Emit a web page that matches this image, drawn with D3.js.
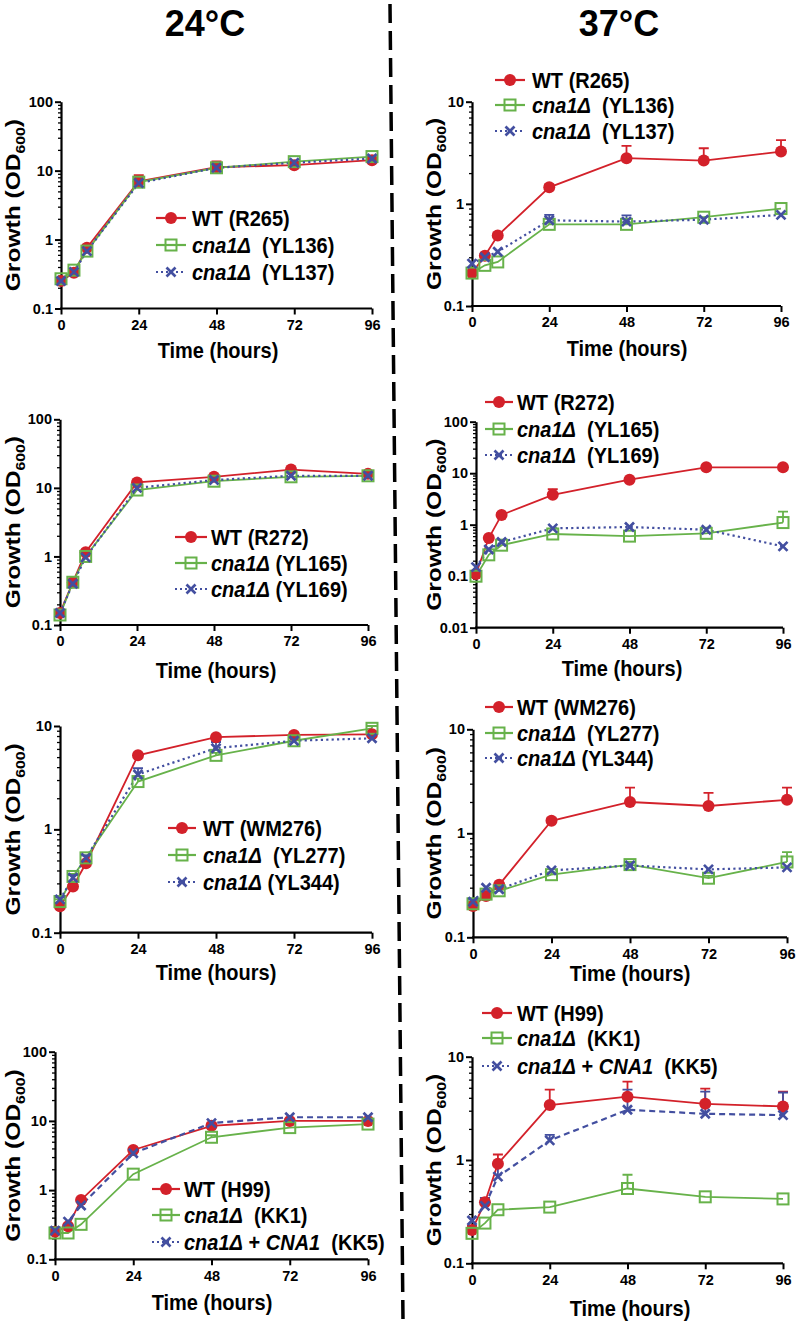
<!DOCTYPE html>
<html><head><meta charset="utf-8">
<script src="https://cdn.jsdelivr.net/npm/d3@7"></script>
<style>
body{margin:0;background:#fff}
svg{display:block}
text{font-family:"Liberation Sans",Arial,Helvetica,sans-serif;font-weight:bold;fill:#000}
</style>
</head><body><svg id="c" width="797" height="1321"></svg>
<script>
// ---------- data ----------
const times=[0,4,8,24,48,72,96];
const xTicks=[0,24,48,72,96];
const yTicksA=[0.1,1,10,100];
const yTicksB=[0.1,1,10];
const yTicksC=[0.01,0.1,1,10,100];
const headings=["24°C","37°C"];

// Panel 1: 24°C, R265
const p1Labels=["WT (R265)","*cna1Δ*  (YL136)","*cna1Δ*  (YL137)"];
const p1WT=[0.25,0.33,0.76,7.0,11.2,12.0,14.2];
const p1WTHi=[0.27,0.36,0.84,8.6,13.6,13.0,15.5];
const p1G=[0.27,0.36,0.68,6.8,11.0,13.5,16.0];
const p1GHi=[0.28,0.38,0.72,7.2,11.8,14.3,16.8];
const p1B=[0.25,0.34,0.68,6.6,11.0,13.0,15.0];
const p1BHi=[0.26,0.35,0.72,7.0,11.6,13.6,15.6];

// Panel 2: 37°C, R265
const p2Labels=["WT (R265)","*cna1Δ*  (YL136)","*cna1Δ*  (YL137)"];
const p2WT=[0.21,0.31,0.49,1.45,2.8,2.65,3.25];
const p2WTHi=[0.22,0.33,0.52,1.55,3.7,3.5,4.2];
const p2G=[0.21,0.25,0.27,0.63,0.63,0.74,0.9];
const p2GHi=[0.22,0.26,0.28,0.66,0.66,0.77,0.94];
const p2B=[0.26,0.30,0.34,0.69,0.67,0.70,0.78];
const p2BHi=[0.27,0.31,0.35,0.78,0.77,0.72,0.80];

// Panel 3: 24°C, R272
const p3Labels=["WT (R272)","*cna1Δ* (YL165)","*cna1Δ* (YL169)"];
const p3WT=[0.15,0.42,1.15,12,14.5,18.5,16];
const p3WTHi=[0.16,0.44,1.2,12.8,15.5,19.5,17];
const p3G=[0.14,0.42,1.0,9.3,12.5,14.5,15];
const p3GHi=[0.15,0.44,1.05,9.8,13.1,15.2,15.8];
const p3B=[0.15,0.40,0.97,10,13,15,15];
const p3BHi=[0.16,0.42,1.02,10.5,13.6,15.7,15.7];

// Panel 4: 37°C, R272
const p4Labels=["WT (R272)","*cna1Δ*  (YL165)","*cna1Δ*  (YL169)"];
const p4WT=[0.11,0.55,1.55,3.8,7.5,13,13];
const p4WTHi=[0.12,0.6,1.7,4.9,8.2,14,14];
const p4G=[0.10,0.26,0.40,0.66,0.60,0.68,1.1];
const p4GHi=[0.11,0.28,0.43,0.70,0.64,0.72,1.8];
const p4B=[0.15,0.33,0.46,0.85,0.9,0.8,0.38];
const p4BHi=[0.16,0.35,0.48,0.9,0.95,0.85,0.41];

// Panel 5: 24°C, WM276
const p5Labels=["WT (WM276)","*cna1Δ*  (YL277)","*cna1Δ* (YL344)"];
const p5WT=[0.18,0.28,0.47,5.2,7.8,8.2,8.3];
const p5WTHi=[0.19,0.29,0.49,5.5,8.2,8.6,8.8];
const p5G=[0.20,0.35,0.53,2.9,5.2,7.2,9.5];
const p5GHi=[0.21,0.37,0.56,3.1,5.5,7.6,10];
const p5B=[0.21,0.34,0.53,3.4,6.1,7.2,7.6];
const p5BHi=[0.22,0.36,0.56,3.9,7.0,7.5,7.9];

// Panel 6: 37°C, WM276
const p6Labels=["WT (WM276)","*cna1Δ*  (YL277)","*cna1Δ* (YL344)"];
const p6WT=[0.20,0.25,0.32,1.32,2.0,1.83,2.1];
const p6WTHi=[0.21,0.26,0.33,1.4,2.75,2.45,2.75];
const p6G=[0.21,0.26,0.28,0.40,0.50,0.37,0.53];
const p6GHi=[0.22,0.27,0.29,0.42,0.53,0.39,0.66];
const p6B=[0.22,0.30,0.29,0.44,0.49,0.45,0.47];
const p6BHi=[0.23,0.31,0.30,0.45,0.50,0.46,0.48];

// Panel 7: 24°C, H99
const p7Labels=["WT (H99)","*cna1Δ*  (KK1)","*cna1Δ* + *CNA1*  (KK5)"];
const p7WT=[0.25,0.30,0.72,3.8,8.5,10,10];
const p7WTHi=[0.27,0.32,0.76,4.0,9.3,10.8,10.6];
const p7G=[0.24,0.24,0.32,1.7,5.8,8.0,9.0];
const p7GHi=[0.25,0.25,0.33,1.8,6.2,8.5,9.5];
const p7B=[0.26,0.35,0.6,3.4,9.3,11.3,11.3];
const p7BHi=[0.27,0.37,0.63,3.6,9.8,12,12];

// Panel 8: 37°C, H99
const p8Labels=["WT (H99)","*cna1Δ*  (KK1)","*cna1Δ* + *CNA1*  (KK5)"];
const p8WT=[0.21,0.39,0.92,3.4,4.1,3.5,3.3];
const p8WTHi=[0.23,0.43,1.13,4.8,5.75,4.9,4.6];
const p8G=[0.195,0.245,0.33,0.35,0.53,0.44,0.42];
const p8GHi=[0.2,0.25,0.34,0.36,0.72,0.45,0.43];
const p8B=[0.26,0.36,0.69,1.55,3.06,2.8,2.72];
const p8BHi=[0.27,0.43,0.88,1.75,4.8,4.6,4.5];

// ---------- styles ----------
const RED="#d3212a", GREEN="#67b24a", BLUE="#434fa0";
const svg=d3.select("#c");

// headings
svg.append("text").attr("x",205).attr("y",36).attr("text-anchor","middle").attr("font-size",36).text(headings[0]);
svg.append("text").attr("x",619).attr("y",36).attr("text-anchor","middle").attr("font-size",36).text(headings[1]);

// divider
svg.append("line").attr("x1",390).attr("y1",4).attr("x2",403).attr("y2",1321)
  .attr("stroke","#000").attr("stroke-width",3.5).attr("stroke-dasharray","19,8");

function richText(sel,str){
  const parts=str.split("*");
  parts.forEach((p,i)=>{ if(p.length) sel.append("tspan").attr("font-style",i%2?"italic":"normal").text(p); });
}

function marker(g,kind,cx,cy){
  if(kind==="circle"){
    g.append("circle").attr("cx",cx).attr("cy",cy).attr("r",6).attr("fill",RED);
  } else if(kind==="square"){
    g.append("rect").attr("x",cx-5.5).attr("y",cy-5.5).attr("width",11).attr("height",11)
      .attr("fill","none").attr("stroke",GREEN).attr("stroke-width",2);
  } else {
    const s=4.5;
    g.append("path").attr("d",`M${cx-s},${cy-s}L${cx+s},${cy+s}M${cx-s},${cy+s}L${cx+s},${cy-s}`)
      .attr("stroke",BLUE).attr("stroke-width",2.7).attr("fill","none");
  }
}

function drawPanel(cfg){
  const g=svg.append("g");
  const x=d3.scaleLinear().domain([0,96]).range([cfg.x0,cfg.x1]);
  const y=d3.scaleLog().domain(cfg.dom).range([cfg.yBot,cfg.yTop]);

  // minor ticks
  const minor=[];
  cfg.yTicks.forEach(d=>{ if(d<cfg.dom[1]) for(let k=2;k<=9;k++) minor.push(d*k); });
  const gm=g.append("g").attr("transform",`translate(${cfg.x0},0)`)
    .call(d3.axisLeft(y).tickValues(minor).tickFormat("").tickSize(3).tickSizeOuter(0));
  gm.select(".domain").remove();
  gm.selectAll("line").attr("stroke-width",1.3);

  const gy=g.append("g").attr("transform",`translate(${cfg.x0},0)`)
    .call(d3.axisLeft(y).tickValues(cfg.yTicks).tickFormat(d=>String(d)).tickSize(6).tickSizeOuter(0).tickPadding(2));
  gy.select(".domain").attr("stroke-width",2.2);
  gy.selectAll("line").attr("stroke-width",2);
  gy.selectAll("text").attr("font-size",14.5).attr("font-family","'Liberation Sans',Arial,sans-serif").attr("font-weight","bold");

  const gx=g.append("g").attr("transform",`translate(0,${cfg.yBot})`)
    .call(d3.axisBottom(x).tickValues(xTicks).tickSize(6).tickSizeOuter(0).tickPadding(5));
  gx.select(".domain").attr("stroke-width",2.2).attr("d",`M${cfg.x0-1},0H${cfg.x1}`);
  gx.selectAll("line").attr("stroke-width",2);
  gx.selectAll("text").attr("font-size",14.5).attr("font-family","'Liberation Sans',Arial,sans-serif").attr("font-weight","bold");

  // titles (slightly stretched vertically, like the reference)
  g.append("text").attr("text-anchor","middle").attr("font-size",20)
    .attr("transform",`translate(${cfg.tx},${cfg.ty+8}) scale(1,1.12)`).text("Time (hours)");
  const yt=g.append("text").attr("text-anchor","middle").attr("font-size",21)
    .attr("transform",`translate(${cfg.ytx},${(cfg.yTop+cfg.yBot)/2}) rotate(-90) scale(1.17,1)`);
  yt.append("tspan").text("Growth (OD");
  yt.append("tspan").attr("font-size",13.5).attr("dy",5).text("600");
  yt.append("tspan").attr("dy",-5).text(")");

  const series=[
    {v:cfg.wt,hi:cfg.wtHi,c:RED,m:"circle",dash:null},
    {v:cfg.g,hi:cfg.gHi,c:GREEN,m:"square",dash:null},
    {v:cfg.b,hi:cfg.bHi,c:BLUE,m:"x",dash:cfg.dashed?"6,4":"2.2,3.2"}
  ];
  const line=d3.line().x((d,i)=>x(times[i])).y(d=>y(d));
  series.forEach(s=>{
    s.hi.forEach((h,i)=>{
      const px=x(times[i]), y0=y(s.v[i]), y1=y(h);
      if(y0-y1>2){
        g.append("path").attr("d",`M${px},${y0}V${y1}M${px-5},${y1}H${px+5}`)
          .attr("stroke",s.c).attr("stroke-width",1.8).attr("fill","none");
      }
    });
    g.append("path").attr("d",line(s.v)).attr("fill","none").attr("stroke",s.c)
      .attr("stroke-width",s.m==="x"?2.2:1.8).attr("stroke-dasharray",s.dash);
  });
  series.forEach(s=>{ s.v.forEach((d,i)=>marker(g,s.m,x(times[i]),y(d))); });

  // legend
  const L=cfg.leg;
  series.forEach((s,i)=>{
    const ry=L.ys[i];
    g.append("line").attr("x1",L.l0).attr("x2",L.l1).attr("y1",ry).attr("y2",ry)
      .attr("stroke",s.c).attr("stroke-width",s.m==="x"?2:2.2).attr("stroke-dasharray",s.m==="x"?"2,3":null);
    marker(g,s.m,(L.l0+L.l1)/2,ry);
    const t=g.append("text").attr("font-size",20).style("white-space","pre")
      .attr("transform",`translate(${L.tx},${ry+7.5}) scale(1,1.1)`);
    richText(t,cfg.labels[i]);
  });
}

const panels=[
 {x0:61,x1:372,yTop:101.7,yBot:308.5,dom:[0.1,100],yTicks:yTicksA,tx:218,ty:350,ytx:20,
  leg:{l0:156,l1:186,tx:192,ys:[218,245,272]},labels:p1Labels,wt:p1WT,wtHi:p1WTHi,g:p1G,gHi:p1GHi,b:p1B,bHi:p1BHi},
 {x0:472,x1:781,yTop:101.7,yBot:306,dom:[0.1,10],yTicks:yTicksB,tx:627,ty:348,ytx:441,
  leg:{l0:495,l1:525,tx:532,ys:[80,105,131]},labels:p2Labels,wt:p2WT,wtHi:p2WTHi,g:p2G,gHi:p2GHi,b:p2B,bHi:p2BHi},
 {x0:60,x1:368,yTop:419.3,yBot:625,dom:[0.1,100],yTicks:yTicksA,tx:216,ty:670,ytx:20,
  leg:{l0:175,l1:207,tx:211,ys:[537,563,589]},labels:p3Labels,wt:p3WT,wtHi:p3WTHi,g:p3G,gHi:p3GHi,b:p3B,bHi:p3BHi},
 {x0:476,x1:783,yTop:421.7,yBot:627.7,dom:[0.01,100],yTicks:yTicksC,tx:622,ty:668,ytx:441,
  leg:{l0:485,l1:513,tx:517,ys:[402,429,455]},labels:p4Labels,wt:p4WT,wtHi:p4WTHi,g:p4G,gHi:p4GHi,b:p4B,bHi:p4BHi},
 {x0:60,x1:372,yTop:726,yBot:932.7,dom:[0.1,10],yTicks:yTicksB,tx:216,ty:972,ytx:20,
  leg:{l0:168,l1:196,tx:203,ys:[828,855,882]},labels:p5Labels,wt:p5WT,wtHi:p5WTHi,g:p5G,gHi:p5GHi,b:p5B,bHi:p5BHi},
 {x0:473,x1:787,yTop:729.3,yBot:937.3,dom:[0.1,10],yTicks:yTicksB,tx:630,ty:973,ytx:441,
  leg:{l0:485,l1:513,tx:517,ys:[707,733,758]},labels:p6Labels,wt:p6WT,wtHi:p6WTHi,g:p6G,gHi:p6GHi,b:p6B,bHi:p6BHi},
 {x0:55,x1:368,yTop:1051.7,yBot:1259.3,dom:[0.1,100],yTicks:yTicksA,tx:212,ty:1302,ytx:20,dashed:true,
  leg:{l0:152,l1:180,tx:184,ys:[1189,1215,1242]},labels:p7Labels,wt:p7WT,wtHi:p7WTHi,g:p7G,gHi:p7GHi,b:p7B,bHi:p7BHi},
 {x0:472,x1:783,yTop:1056.7,yBot:1263.3,dom:[0.1,10],yTicks:yTicksB,tx:630,ty:1308,ytx:441,dashed:true,
  leg:{l0:482,l1:512,tx:517,ys:[1013,1038,1066]},labels:p8Labels,wt:p8WT,wtHi:p8WTHi,g:p8G,gHi:p8GHi,b:p8B,bHi:p8BHi}
];
panels.forEach(drawPanel);
</script>
</body></html>
